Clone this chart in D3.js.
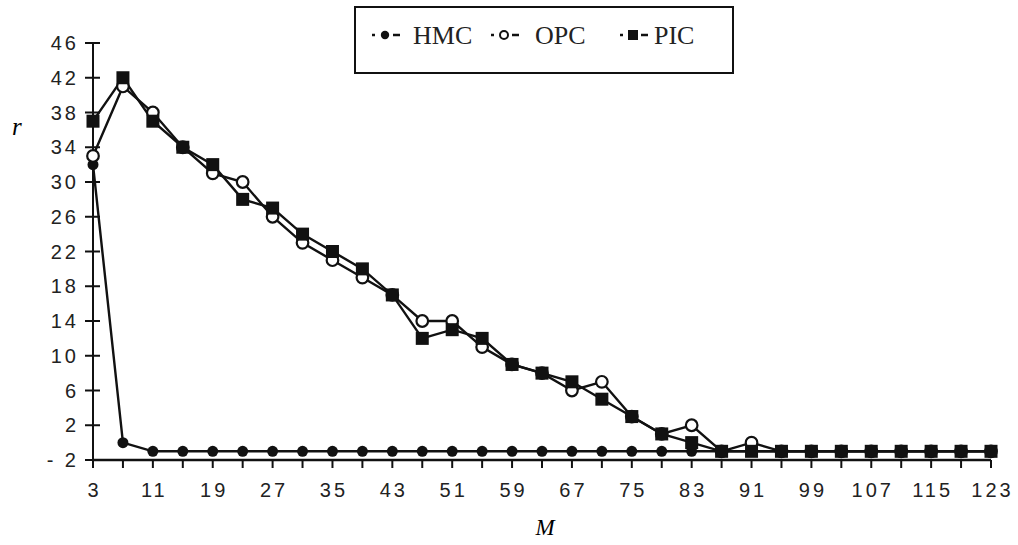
<!DOCTYPE html>
<html><head><meta charset="utf-8">
<script src="https://cdn.jsdelivr.net/npm/d3@7"></script>
<style>body{margin:0;background:#fff}</style>
</head><body>
<svg id="c" width="1018" height="545"></svg>
<script>
const mValues = [3,7,11,15,19,23,27,31,35,39,43,47,51,55,59,63,67,71,75,79,83,87,91,95,99,103,107,111,115,119,123];
const hmc = [32,0,-1,-1,-1,-1,-1,-1,-1,-1,-1,-1,-1,-1,-1,-1,-1,-1,-1,-1,-1,-1,-1,-1,-1,-1,-1,-1,-1,-1,-1];
const opc = [33,41,38,34,31,30,26,23,21,19,17,14,14,11,9,8,6,7,3,1,2,-1,0,-1,-1,-1,-1,-1,-1,-1,-1];
const pic = [37,42,37,34,32,28,27,24,22,20,17,12,13,12,9,8,7,5,3,1,0,-1,-1,-1,-1,-1,-1,-1,-1,-1,-1];
const yTicks = [-2,2,6,10,14,18,22,26,30,34,38,42,46];
const xTickLabels = [3,11,19,27,35,43,51,59,67,75,83,91,99,107,115,123];
const seriesNames = ["HMC","OPC","PIC"];

const svg = d3.select("#c");
const x = d3.scaleLinear().domain([3,123]).range([93,991]);
const y = d3.scaleLinear().domain([-2,46]).range([460,43]);

const g = svg.append("g");
g.append("line").attr("x1",x(3)).attr("x2",x(3)).attr("y1",y(-2)).attr("y2",y(46)).attr("stroke","#111").attr("stroke-width",2);
g.append("line").attr("x1",x(3)).attr("x2",x(123)).attr("y1",y(-2)).attr("y2",y(-2)).attr("stroke","#111").attr("stroke-width",2.5);
yTicks.forEach(v=>{
  g.append("line").attr("x1",x(3)-8).attr("x2",x(3)+7).attr("y1",y(v)).attr("y2",y(v)).attr("stroke","#111").attr("stroke-width",2);
  g.append("text").attr("x",79).attr("y",y(v)+7).attr("text-anchor","end")
   .attr("font-family","Liberation Sans, Arial, sans-serif").attr("font-size",20).attr("letter-spacing",3).attr("fill","#222")
   .text(v<0 ? "- " + Math.abs(v) : v);
});
mValues.forEach(v=>{
  g.append("line").attr("x1",x(v)).attr("x2",x(v)).attr("y1",y(-2)).attr("y2",y(-2)+8).attr("stroke","#111").attr("stroke-width",2);
});
xTickLabels.forEach(v=>{
  g.append("text").attr("x",x(v)+1.5).attr("y",497).attr("text-anchor","middle")
   .attr("font-family","Liberation Sans, Arial, sans-serif").attr("font-size",20).attr("letter-spacing",3).attr("fill","#222")
   .text(v);
});
svg.append("text").attr("x",12).attr("y",135).attr("font-family","Liberation Serif, serif").attr("font-style","italic").attr("font-size",25).text("r");
svg.append("text").attr("x",545).attr("y",535).attr("text-anchor","middle").attr("font-family","Liberation Serif, serif").attr("font-style","italic").attr("font-size",23).text("M");

const line = d3.line().x(d=>x(d[0])).y(d=>y(d[1]));
const data = [hmc,opc,pic].map(s=>mValues.map((m,i)=>[m,s[i]]));

function drawMarker(sel, type, cx, cy){
  if(type===0) sel.append("circle").attr("cx",cx).attr("cy",cy).attr("r",5.5).attr("fill","#111");
  else if(type===1) sel.append("circle").attr("cx",cx).attr("cy",cy).attr("r",5.8).attr("fill","#fff").attr("stroke","#111").attr("stroke-width",2.2);
  else sel.append("rect").attr("x",cx-6.5).attr("y",cy-6.5).attr("width",13).attr("height",13).attr("fill","#111");
}
data.forEach((d,k)=>{
  svg.append("path").datum(d).attr("d",line).attr("fill","none").attr("stroke","#111").attr("stroke-width",2.4);
});
data.forEach((d,k)=>{
  const gm = svg.append("g");
  d.forEach(p=>drawMarker(gm,k,x(p[0]),y(p[1])));
});

// legend
const lg = svg.append("g");
lg.append("rect").attr("x",355).attr("y",7).attr("width",378).attr("height",66).attr("fill","#fff").attr("stroke","#111").attr("stroke-width",2);
const lx = [387,506,635], tx=[413,535,654];
seriesNames.forEach((n,i)=>{
  lg.append("line").attr("x1",lx[i]-15).attr("x2",lx[i]-12).attr("y1",35).attr("y2",35).attr("stroke","#111").attr("stroke-width",2.5);
  lg.append("line").attr("x1",lx[i]+6).attr("x2",lx[i]+13).attr("y1",35).attr("y2",35).attr("stroke","#111").attr("stroke-width",2.5);
  if(i===0) lg.append("circle").attr("cx",lx[i]-2).attr("cy",35).attr("r",4.2).attr("fill","#111");
  else if(i===1) lg.append("circle").attr("cx",lx[i]-2).attr("cy",35).attr("r",4).attr("fill","#fff").attr("stroke","#111").attr("stroke-width",2);
  else lg.append("rect").attr("x",lx[i]-7).attr("y",30).attr("width",10).attr("height",10).attr("fill","#111");
  lg.append("text").attr("x",tx[i]).attr("y",44).attr("font-family","Liberation Serif, serif").attr("font-size",26).attr("fill","#222").text(n);
});
</script>
</body></html>
